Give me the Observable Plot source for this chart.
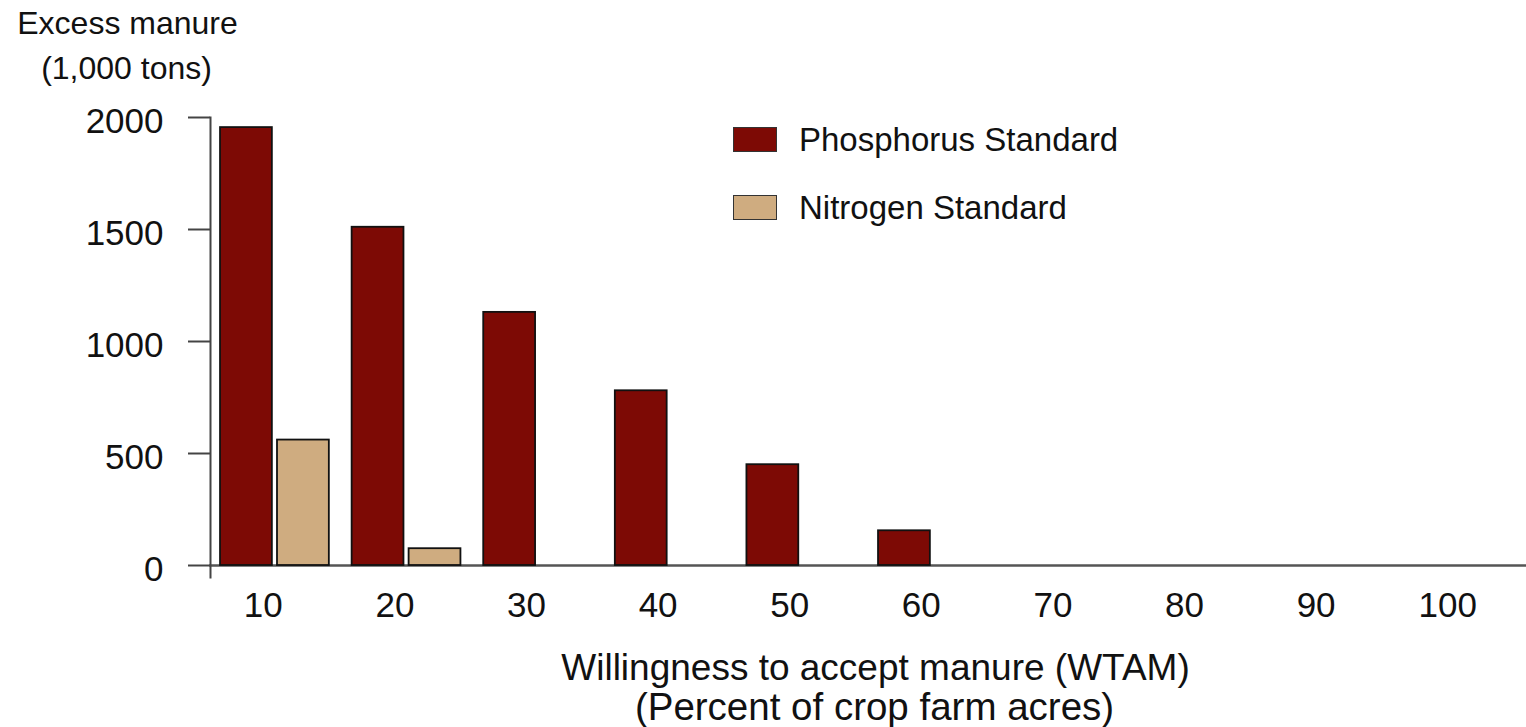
<!DOCTYPE html>
<html>
<head>
<meta charset="utf-8">
<script src="https://cdn.jsdelivr.net/npm/d3@7"></script>
<script src="https://cdn.jsdelivr.net/npm/@observablehq/plot@0.6"></script>
<style>
  html, body { margin: 0; padding: 0; background: #fff; }
  #wrap { position: relative; width: 1526px; height: 727px; overflow: hidden; font-family: "Liberation Sans", Arial, sans-serif; }
  #legend { position: absolute; left: 733px; top: 127px; }
  .item { display: flex; align-items: center; height: 25px; margin-bottom: 43px; }
  .sw { width: 42px; height: 23px; border: 1.5px solid #333; box-sizing: content-box; }
  .lab { margin-left: 22px; font-size: 33px; color: #111; white-space: nowrap; }
</style>
</head>
<body>
<div id="wrap"></div>
<script>
// ---- data ----
const wtam = [10, 20, 30, 40, 50, 60, 70, 80, 90, 100];
const seriesNames = ["Phosphorus Standard", "Nitrogen Standard"];
const phosphorus = [1955, 1510, 1130, 780, 450, 155, 0, 0, 0, 0];
const nitrogen = [560, 75, 0, 0, 0, 0, 0, 0, 0, 0];
const seriesColors = ["#7d0a05", "#cfac80"];
const yTicks = [0, 500, 1000, 1500, 2000];
const yTitle = ["Excess manure", "(1,000 tons)"];
const xTitle = ["Willingness to accept manure (WTAM)", "(Percent of crop farm acres)"];

const table = [];
wtam.forEach((w, i) => {
  if (phosphorus[i] > 0) table.push({wtam: w, series: seriesNames[0], value: phosphorus[i]});
  if (nitrogen[i] > 0) table.push({wtam: w, series: seriesNames[1], value: nitrogen[i]});
});

const chart = Plot.plot({
  width: 1526,
  height: 727,
  marginTop: 117,
  marginBottom: 162,
  marginLeft: 210,
  marginRight: 0,
  style: {fontFamily: "'Liberation Sans', Arial, sans-serif", background: "white", color: "#111"},
  fx: {domain: wtam, padding: 0, round: false, axis: null},
  x: {domain: seriesNames, paddingInner: 0.09, paddingOuter: 0.2, align: 0.44, round: false, axis: null},
  y: {domain: [0, 2000], axis: null},
  color: {domain: seriesNames, range: seriesColors},
  marks: [
    Plot.frame({anchor: "bottom", facet: "super", stroke: "#555", strokeWidth: 2.5}),
    Plot.barY(table, {fx: "wtam", x: "series", y: "value", fill: "series", stroke: "#111", strokeWidth: 1.8}),
    Plot.axisY({ticks: yTicks, tickSize: 22, text: null, stroke: "#444", strokeWidth: 2, label: null}),
    Plot.axisY({ticks: yTicks, tickFormat: d => String(d), tickSize: 0, tickPadding: 47, dy: 4, fontSize: 35, label: null}),
    Plot.axisFx({anchor: "bottom", tickSize: 0, tickPadding: 27, dx: -13, fontSize: 35, label: null}),
    Plot.frame({anchor: "left", facet: "super", insetBottom: -12, stroke: "#444", strokeWidth: 2}),
    Plot.text([yTitle[0]], {facet: "super", frameAnchor: "top-left", text: d => d, dx: -83, dy: -84, textAnchor: "middle", lineAnchor: "bottom", fontSize: 32}),
    Plot.text([yTitle[1]], {facet: "super", frameAnchor: "top-left", text: d => d, dx: -84, dy: -39, textAnchor: "middle", lineAnchor: "bottom", fontSize: 32}),
    Plot.text([xTitle[0]], {facet: "super", frameAnchor: "bottom", text: d => d, dx: 7, dy: 114, textAnchor: "middle", lineAnchor: "bottom", fontSize: 37}),
    Plot.text([xTitle[1]], {facet: "super", frameAnchor: "bottom", text: d => d, dx: 6, dy: 154, textAnchor: "middle", lineAnchor: "bottom", fontSize: 38.5})
  ]
});

const wrap = document.getElementById("wrap");
wrap.appendChild(chart);

// legend built from the chart's color scale
const color = chart.scale("color");
const legend = document.createElement("div");
legend.id = "legend";
color.domain.forEach((name, i) => {
  const item = document.createElement("div");
  item.className = "item";
  const sw = document.createElement("div");
  sw.className = "sw";
  sw.style.background = color.range[i];
  const lab = document.createElement("span");
  lab.className = "lab";
  lab.textContent = name;
  item.appendChild(sw);
  item.appendChild(lab);
  legend.appendChild(item);
});
wrap.appendChild(legend);
</script>
</body>
</html>
